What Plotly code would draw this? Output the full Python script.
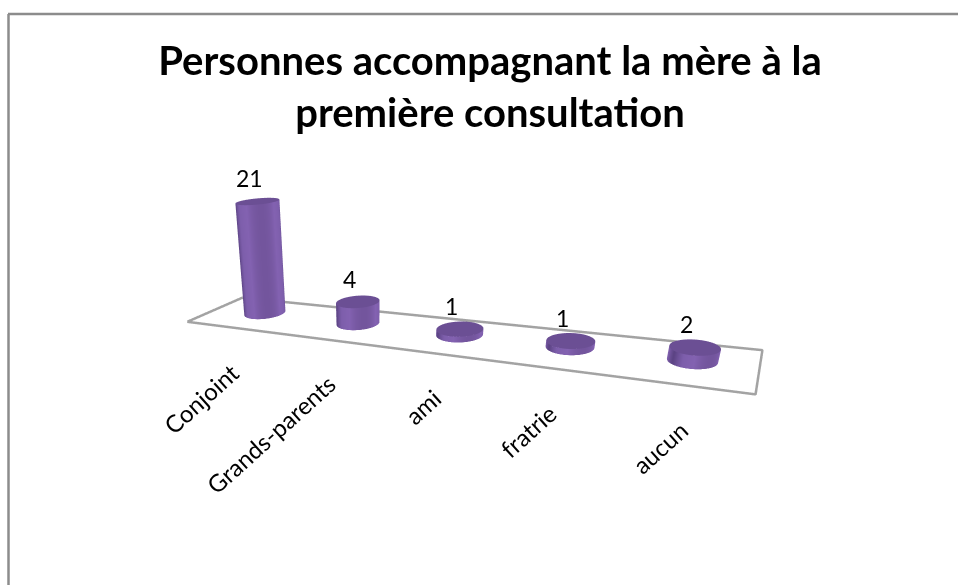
import numpy as np
import plotly.graph_objects as go

TITLE_LINES = ["Personnes accompagnant la mère à la", "première consultation"]
categories = ["Conjoint", "Grands-parents", "ami", "fratrie", "aucun"]
values = [21, 4, 1, 1, 2]

# layout of the bars on the floor (not data)
bar_x = [0.60, 1.69, 2.71, 3.66, 4.56]
bar_scale = [1.08, 1.05, 1.05, 0.98, 0.90]
BAR_Y = 0.56
LEAN = 0.0077
RX, RY = 0.192, 0.22

SIDE_SCALE = [[0, "#5a4282"], [0.45, "#7d5eab"], [0.8, "#8362b1"], [1, "#73559d"]]
TOP_COLOR = "#6b4f94"
FLOOR_COLOR = "#a3a3a3"
ZMAX = 25.6
FLAT = dict(ambient=1, diffuse=0, specular=0, roughness=1, fresnel=0)

fig = go.Figure()

# floor outline
fig.add_trace(go.Scatter3d(x=[0, 5, 5, 0, 0], y=[0, 0, 1, 1, 0], z=[0, 0, 0, 0, 0],
                           mode="lines", line=dict(color=FLOOR_COLOR, width=5),
                           hoverinfo="skip", showlegend=False))

theta = np.linspace(0, 2 * np.pi, 73)
for cx, k, v in zip(bar_x, bar_scale, values):
    dx = RX * k * np.cos(theta)
    dy = RY * k * np.sin(theta)
    top_x = cx + LEAN * v
    X = np.vstack([cx + dx, top_x + dx])
    Y = np.vstack([BAR_Y + dy, BAR_Y + dy])
    Z = np.vstack([np.zeros_like(dx), np.full_like(dx, v)])
    shade = np.abs(np.sin(theta - 0.8))
    fig.add_trace(go.Surface(x=X, y=Y, z=Z, surfacecolor=np.vstack([shade, shade]),
                             colorscale=SIDE_SCALE, cmin=0, cmax=1, showscale=False,
                             lighting=FLAT, hoverinfo="skip"))
    X2 = np.vstack([np.full_like(dx, top_x), top_x + dx])
    Y2 = np.vstack([np.full_like(dy, BAR_Y), BAR_Y + dy])
    Z2 = np.full_like(X2, v)
    fig.add_trace(go.Surface(x=X2, y=Y2, z=Z2, surfacecolor=np.zeros_like(X2),
                             colorscale=[[0, TOP_COLOR], [1, TOP_COLOR]], cmin=0, cmax=1, showscale=False,
                             lighting=FLAT, hoverinfo="skip"))

annos = []
for cx, v in zip(bar_x, values):
    annos.append(dict(x=cx + LEAN * v, y=BAR_Y, z=v, text=str(v), showarrow=False,
                      font=dict(family="Lato", size=23, color="#000000"),
                      yshift=23, xshift=-8))
for cx, c in zip(bar_x, categories):
    annos.append(dict(x=cx, y=0, z=0, text=c, showarrow=False, textangle=-42,
                      xanchor="right", yanchor="top",
                      font=dict(family="Lato", size=24, color="#000000"),
                      xshift=13, yshift=-27))

axis = dict(visible=False, showgrid=False, zeroline=False, showbackground=False)
fig.update_layout(
    width=958, height=585,
    margin=dict(l=0, r=0, t=0, b=0),
    paper_bgcolor="white",
    showlegend=False,
    title=dict(text="<br>".join(TITLE_LINES), x=490 / 958, xanchor="center",
               y=1 - 75 / 585, yanchor="top",
               font=dict(family="Lato", size=40, color="#000000", weight="bold")),
    scene=dict(
        domain=dict(x=[0, 1], y=[21 / 585, 565 / 585]),
        xaxis=dict(range=[0, 5], **axis),
        yaxis=dict(range=[0, 1], **axis),
        zaxis=dict(range=[0, ZMAX], **axis),
        aspectmode="manual",
        aspectratio=dict(x=1.237, y=0.1765, z=0.328),
        camera=dict(eye=dict(x=0.655, y=-1.085, z=0.336),
                    center=dict(x=0.100, y=0.0187, z=-0.071),
                    up=dict(x=-0.071, y=0.312, z=0.947),
                    projection=dict(type="perspective")),
        annotations=annos,
    ),
    shapes=[dict(type="line", xref="paper", yref="paper", x0=8.5 / 958, x1=8.5 / 958, y0=0, y1=1 - 14 / 585,
                 line=dict(color="#8c8c8c", width=2.5)),
            dict(type="line", xref="paper", yref="paper", x0=8 / 958, x1=1, y0=1 - 14 / 585, y1=1 - 14 / 585,
                 line=dict(color="#8c8c8c", width=2.5))],
)
fig.write_html("out.html", config=dict(displayModeBar=False),
               post_script="document.body.style.margin='0';document.body.style.overflow='hidden';")
